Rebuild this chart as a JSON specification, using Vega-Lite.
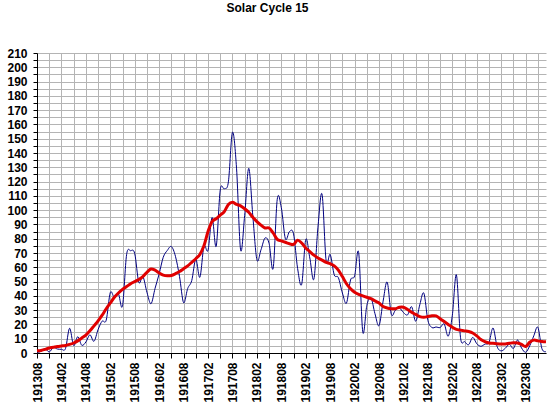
{
  "$schema": "https://vega.github.io/schema/vega-lite/v6.json",
  "width": 509,
  "height": 300,
  "autosize": {"type": "none"},
  "padding": {"left": 37, "top": 53, "right": 3, "bottom": 57},
  "background": "white",
  "title": {
    "text": "Solar Cycle 15",
    "font": "Liberation Sans",
    "fontSize": 12,
    "fontWeight": "bold",
    "color": "#000000",
    "anchor": "middle",
    "frame": "group",
    "dx": -24,
    "offset": 32
  },
  "config": {
    "view": {"stroke": null},
    "axis": {
      "labelFont": "Liberation Sans",
      "labelFontSize": 12,
      "labelFontWeight": "bold",
      "labelColor": "#000000",
      "domainColor": "#000000",
      "tickColor": "#000000",
      "gridColor": "#b4b4b4",
      "gridOpacity": 1,
      "title": null
    }
  },
  "data": {
    "values": [
      {"month": "191308", "ssn": 0.2, "smoothed": 1.5},
      {"month": "191309", "ssn": 1.2, "smoothed": 1.8},
      {"month": "191310", "ssn": 3.1, "smoothed": 2.5},
      {"month": "191311", "ssn": 0.7, "smoothed": 3.5},
      {"month": "191312", "ssn": 3.8, "smoothed": 4.0},
      {"month": "191401", "ssn": 2.8, "smoothed": 4.5},
      {"month": "191402", "ssn": 2.6, "smoothed": 4.9},
      {"month": "191403", "ssn": 3.1, "smoothed": 5.3},
      {"month": "191404", "ssn": 17.3, "smoothed": 6.0},
      {"month": "191405", "ssn": 5.2, "smoothed": 7.0},
      {"month": "191406", "ssn": 11.4, "smoothed": 8.5},
      {"month": "191407", "ssn": 5.4, "smoothed": 10.5},
      {"month": "191408", "ssn": 7.7, "smoothed": 12.5},
      {"month": "191409", "ssn": 12.7, "smoothed": 15.5},
      {"month": "191410", "ssn": 8.2, "smoothed": 19.0},
      {"month": "191411", "ssn": 16.4, "smoothed": 22.5},
      {"month": "191412", "ssn": 22.3, "smoothed": 26.5},
      {"month": "191501", "ssn": 23.0, "smoothed": 31.0},
      {"month": "191502", "ssn": 42.3, "smoothed": 35.0},
      {"month": "191503", "ssn": 38.8, "smoothed": 39.0},
      {"month": "191504", "ssn": 41.3, "smoothed": 42.0},
      {"month": "191505", "ssn": 33.0, "smoothed": 44.5},
      {"month": "191506", "ssn": 68.8, "smoothed": 46.5},
      {"month": "191507", "ssn": 71.6, "smoothed": 48.5},
      {"month": "191508", "ssn": 69.6, "smoothed": 50.0},
      {"month": "191509", "ssn": 49.5, "smoothed": 51.5},
      {"month": "191510", "ssn": 53.5, "smoothed": 53.5},
      {"month": "191511", "ssn": 42.5, "smoothed": 56.5},
      {"month": "191512", "ssn": 34.5, "smoothed": 58.8},
      {"month": "191601", "ssn": 45.3, "smoothed": 58.0},
      {"month": "191602", "ssn": 55.4, "smoothed": 56.0},
      {"month": "191603", "ssn": 67.0, "smoothed": 54.5},
      {"month": "191604", "ssn": 71.8, "smoothed": 54.0},
      {"month": "191605", "ssn": 74.5, "smoothed": 54.3},
      {"month": "191606", "ssn": 67.7, "smoothed": 55.5},
      {"month": "191607", "ssn": 53.5, "smoothed": 57.0},
      {"month": "191608", "ssn": 35.2, "smoothed": 59.0},
      {"month": "191609", "ssn": 45.1, "smoothed": 61.0},
      {"month": "191610", "ssn": 50.7, "smoothed": 63.5},
      {"month": "191611", "ssn": 65.6, "smoothed": 66.0},
      {"month": "191612", "ssn": 53.0, "smoothed": 69.0},
      {"month": "191701", "ssn": 74.7, "smoothed": 75.0},
      {"month": "191702", "ssn": 71.9, "smoothed": 85.0},
      {"month": "191703", "ssn": 94.8, "smoothed": 92.0},
      {"month": "191704", "ssn": 74.7, "smoothed": 94.0},
      {"month": "191705", "ssn": 114.1, "smoothed": 96.5},
      {"month": "191706", "ssn": 114.9, "smoothed": 99.0},
      {"month": "191707", "ssn": 119.8, "smoothed": 104.0},
      {"month": "191708", "ssn": 154.5, "smoothed": 105.5},
      {"month": "191709", "ssn": 129.4, "smoothed": 104.0},
      {"month": "191710", "ssn": 72.2, "smoothed": 103.0},
      {"month": "191711", "ssn": 96.4, "smoothed": 101.0},
      {"month": "191712", "ssn": 129.3, "smoothed": 98.5},
      {"month": "191801", "ssn": 96.0, "smoothed": 95.0},
      {"month": "191802", "ssn": 65.3, "smoothed": 92.0},
      {"month": "191803", "ssn": 72.2, "smoothed": 89.5},
      {"month": "191804", "ssn": 80.5, "smoothed": 87.5},
      {"month": "191805", "ssn": 76.7, "smoothed": 87.5},
      {"month": "191806", "ssn": 59.4, "smoothed": 84.0},
      {"month": "191807", "ssn": 107.6, "smoothed": 79.5},
      {"month": "191808", "ssn": 101.7, "smoothed": 78.5},
      {"month": "191809", "ssn": 79.9, "smoothed": 77.5},
      {"month": "191810", "ssn": 85.0, "smoothed": 76.5},
      {"month": "191811", "ssn": 83.4, "smoothed": 76.0},
      {"month": "191812", "ssn": 59.2, "smoothed": 79.0},
      {"month": "191901", "ssn": 48.1, "smoothed": 77.0},
      {"month": "191902", "ssn": 79.5, "smoothed": 73.5},
      {"month": "191903", "ssn": 66.5, "smoothed": 71.0},
      {"month": "191904", "ssn": 51.8, "smoothed": 68.5},
      {"month": "191905", "ssn": 88.1, "smoothed": 66.5},
      {"month": "191906", "ssn": 111.2, "smoothed": 65.0},
      {"month": "191907", "ssn": 64.7, "smoothed": 63.5},
      {"month": "191908", "ssn": 69.0, "smoothed": 62.5},
      {"month": "191909", "ssn": 54.7, "smoothed": 61.0},
      {"month": "191910", "ssn": 52.8, "smoothed": 58.0},
      {"month": "191911", "ssn": 42.0, "smoothed": 53.5},
      {"month": "191912", "ssn": 34.9, "smoothed": 48.5},
      {"month": "192001", "ssn": 51.1, "smoothed": 45.0},
      {"month": "192002", "ssn": 53.9, "smoothed": 42.5},
      {"month": "192003", "ssn": 70.2, "smoothed": 41.0},
      {"month": "192004", "ssn": 14.8, "smoothed": 40.0},
      {"month": "192005", "ssn": 33.3, "smoothed": 39.0},
      {"month": "192006", "ssn": 38.7, "smoothed": 38.0},
      {"month": "192007", "ssn": 27.5, "smoothed": 36.5},
      {"month": "192008", "ssn": 19.2, "smoothed": 35.0},
      {"month": "192009", "ssn": 36.3, "smoothed": 32.5},
      {"month": "192010", "ssn": 49.6, "smoothed": 31.5},
      {"month": "192011", "ssn": 27.2, "smoothed": 31.0},
      {"month": "192012", "ssn": 29.9, "smoothed": 31.0},
      {"month": "192101", "ssn": 31.5, "smoothed": 32.0},
      {"month": "192102", "ssn": 28.3, "smoothed": 32.0},
      {"month": "192103", "ssn": 26.7, "smoothed": 30.5},
      {"month": "192104", "ssn": 32.4, "smoothed": 28.5},
      {"month": "192105", "ssn": 22.2, "smoothed": 27.0},
      {"month": "192106", "ssn": 33.7, "smoothed": 25.5},
      {"month": "192107", "ssn": 41.9, "smoothed": 25.0},
      {"month": "192108", "ssn": 22.8, "smoothed": 25.5},
      {"month": "192109", "ssn": 17.8, "smoothed": 26.0},
      {"month": "192110", "ssn": 18.2, "smoothed": 26.0},
      {"month": "192111", "ssn": 17.8, "smoothed": 24.0},
      {"month": "192112", "ssn": 20.3, "smoothed": 22.0},
      {"month": "192201", "ssn": 11.8, "smoothed": 20.0},
      {"month": "192202", "ssn": 26.4, "smoothed": 18.0},
      {"month": "192203", "ssn": 54.7, "smoothed": 16.5},
      {"month": "192204", "ssn": 11.0, "smoothed": 16.0},
      {"month": "192205", "ssn": 8.0, "smoothed": 15.5},
      {"month": "192206", "ssn": 5.8, "smoothed": 15.0},
      {"month": "192207", "ssn": 10.9, "smoothed": 14.0},
      {"month": "192208", "ssn": 6.5, "smoothed": 12.0},
      {"month": "192209", "ssn": 4.7, "smoothed": 9.5},
      {"month": "192210", "ssn": 6.2, "smoothed": 8.0},
      {"month": "192211", "ssn": 7.4, "smoothed": 7.0},
      {"month": "192212", "ssn": 17.5, "smoothed": 6.8},
      {"month": "192301", "ssn": 4.5, "smoothed": 6.5},
      {"month": "192302", "ssn": 1.5, "smoothed": 6.3},
      {"month": "192303", "ssn": 3.3, "smoothed": 6.3},
      {"month": "192304", "ssn": 6.1, "smoothed": 6.8},
      {"month": "192305", "ssn": 3.2, "smoothed": 7.2},
      {"month": "192306", "ssn": 9.1, "smoothed": 7.0},
      {"month": "192307", "ssn": 3.5, "smoothed": 6.0},
      {"month": "192308", "ssn": 0.5, "smoothed": 4.5},
      {"month": "192309", "ssn": 5.0, "smoothed": 7.5},
      {"month": "192310", "ssn": 12.0, "smoothed": 9.0},
      {"month": "192311", "ssn": 18.0, "smoothed": 8.5},
      {"month": "192312", "ssn": 3.0, "smoothed": 8.0},
      {"month": "192401", "ssn": 1.0, "smoothed": 7.8}
    ]
  },
  "encoding": {
    "x": {
      "field": "month",
      "type": "ordinal",
      "scale": {"type": "point", "padding": 0},
      "axis": {
        "values": ["191308","191311","191402","191405","191408","191411","191502","191505","191508","191511","191602","191605","191608","191611","191702","191705","191708","191711","191802","191805","191808","191811","191902","191905","191908","191911","192002","192005","192008","192011","192102","192105","192108","192111","192202","192205","192208","192211","192302","192305","192308","192311"],
        "labelExpr": "(substring(datum.label,4,6) == '02' || substring(datum.label,4,6) == '08') ? datum.label : ''",
        "labelAngle": -90,
        "labelAlign": "right",
        "labelBaseline": "middle",
        "labelPadding": 4,
        "tickSize": 5,
        "grid": true,
        "labelOverlap": false
      }
    }
  },
  "layer": [
    {
      "mark": {"type": "line", "color": "#000080", "strokeWidth": 1, "interpolate": "cardinal"},
      "encoding": {
        "y": {
          "field": "ssn",
          "type": "quantitative",
          "scale": {"domain": [0, 210], "nice": false},
          "axis": {
            "values": [0,5,10,15,20,25,30,35,40,45,50,55,60,65,70,75,80,85,90,95,100,105,110,115,120,125,130,135,140,145,150,155,160,165,170,175,180,185,190,195,200,205,210],
            "labelExpr": "datum.value % 10 == 0 ? datum.label : ''",
            "tickSize": 4,
            "labelPadding": 6,
            "labelOverlap": false,
            "grid": true
          }
        }
      }
    },
    {
      "mark": {"type": "line", "color": "#e00000", "strokeWidth": 3, "interpolate": "cardinal"},
      "encoding": {
        "y": {
          "field": "smoothed",
          "type": "quantitative",
          "scale": {"domain": [0, 210], "nice": false},
          "axis": {
            "values": [0,5,10,15,20,25,30,35,40,45,50,55,60,65,70,75,80,85,90,95,100,105,110,115,120,125,130,135,140,145,150,155,160,165,170,175,180,185,190,195,200,205,210],
            "labelExpr": "datum.value % 10 == 0 ? datum.label : ''",
            "tickSize": 4,
            "labelPadding": 6,
            "labelOverlap": false,
            "grid": true
          }
        }
      }
    }
  ]
}
